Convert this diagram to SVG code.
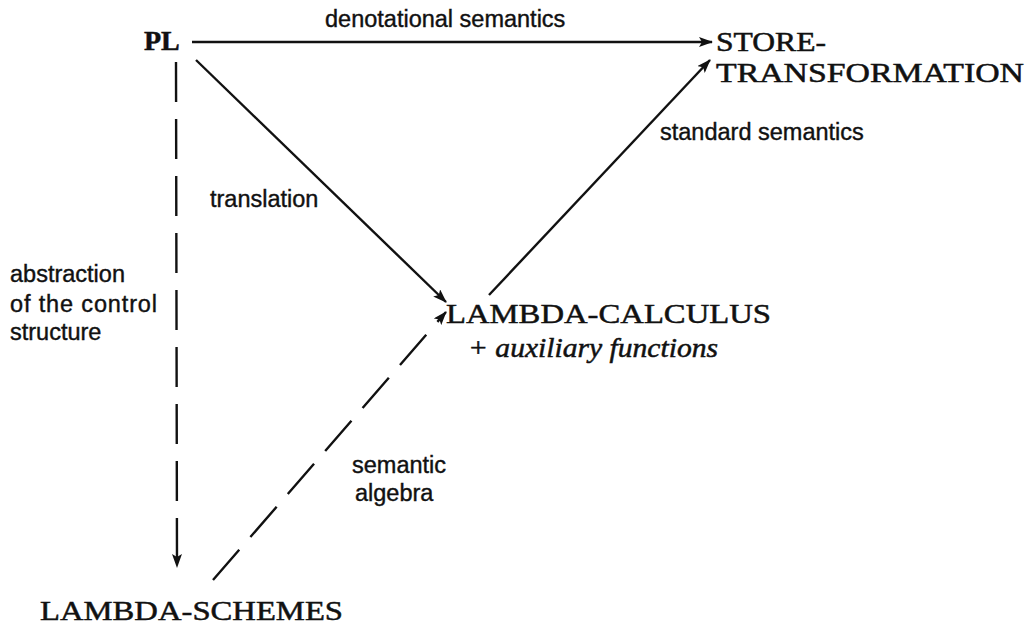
<svg xmlns="http://www.w3.org/2000/svg" width="1036" height="630" viewBox="0 0 1036 630">
<style>
.node{font-family:"Liberation Serif","Times New Roman",serif;fill:#111;stroke:#111;stroke-width:0.5;}
.lbl{font-family:"Liberation Sans",Arial,sans-serif;font-size:23.5px;fill:#111;stroke:#111;stroke-width:0.4;}
.ln{stroke:#111;stroke-width:2.4;fill:none;}
.dash{stroke-dasharray:40 17;}
</style>
<defs>
<marker id="ah" viewBox="0 0 14 10" refX="13" refY="5" markerWidth="14" markerHeight="10" markerUnits="userSpaceOnUse" orient="auto">
<path d="M0,0 L14,5 L0,10 L3,5 z" fill="#111"/>
</marker>
</defs>
<rect width="1036" height="630" fill="#fff"/>
<g id="connectors">
<line class="ln" x1="192" y1="42" x2="712" y2="42" marker-end="url(#ah)"/>
<line class="ln" x1="196" y1="60" x2="446" y2="302" marker-end="url(#ah)"/>
<line class="ln" x1="489" y1="295" x2="710" y2="60" marker-end="url(#ah)"/>
<line class="ln dash" x1="176" y1="62" x2="177" y2="567" marker-end="url(#ah)"/>
<line class="ln dash" x1="213" y1="580" x2="446" y2="312" marker-end="url(#ah)"/>
<text class="lbl" x="325" y="27">denotational semantics</text>
<text class="lbl" x="210" y="207">translation</text>
<text class="lbl" x="660" y="140">standard semantics</text>
<text class="lbl" x="10" y="282">abstraction</text>
<text class="lbl" x="10" y="312" textLength="147">of the control</text>
<text class="lbl" x="10" y="340">structure</text>
<text class="lbl" x="352" y="473">semantic</text>
<text class="lbl" x="355" y="501">algebra</text>
</g>
<g id="PL"><text class="node" x="144" y="50" font-size="28" font-weight="bold">PL</text></g>
<g id="STORE-TRANSFORMATION">
<text class="node" x="716" y="51" font-size="27" textLength="110" lengthAdjust="spacingAndGlyphs">STORE-</text>
<text class="node" x="716" y="82" font-size="27" textLength="308" lengthAdjust="spacingAndGlyphs">TRANSFORMATION</text>
</g>
<g id="LAMBDA-CALCULUS">
<text class="node" x="446" y="323" font-size="28" textLength="325" lengthAdjust="spacingAndGlyphs">LAMBDA-CALCULUS</text>
<text class="node" x="468" y="357" font-size="27" font-style="italic" textLength="250" lengthAdjust="spacingAndGlyphs">+ auxiliary functions</text>
</g>
<g id="LAMBDA-SCHEMES"><text class="node" x="40" y="620" font-size="28" textLength="303" lengthAdjust="spacingAndGlyphs">LAMBDA-SCHEMES</text></g>
</svg>
